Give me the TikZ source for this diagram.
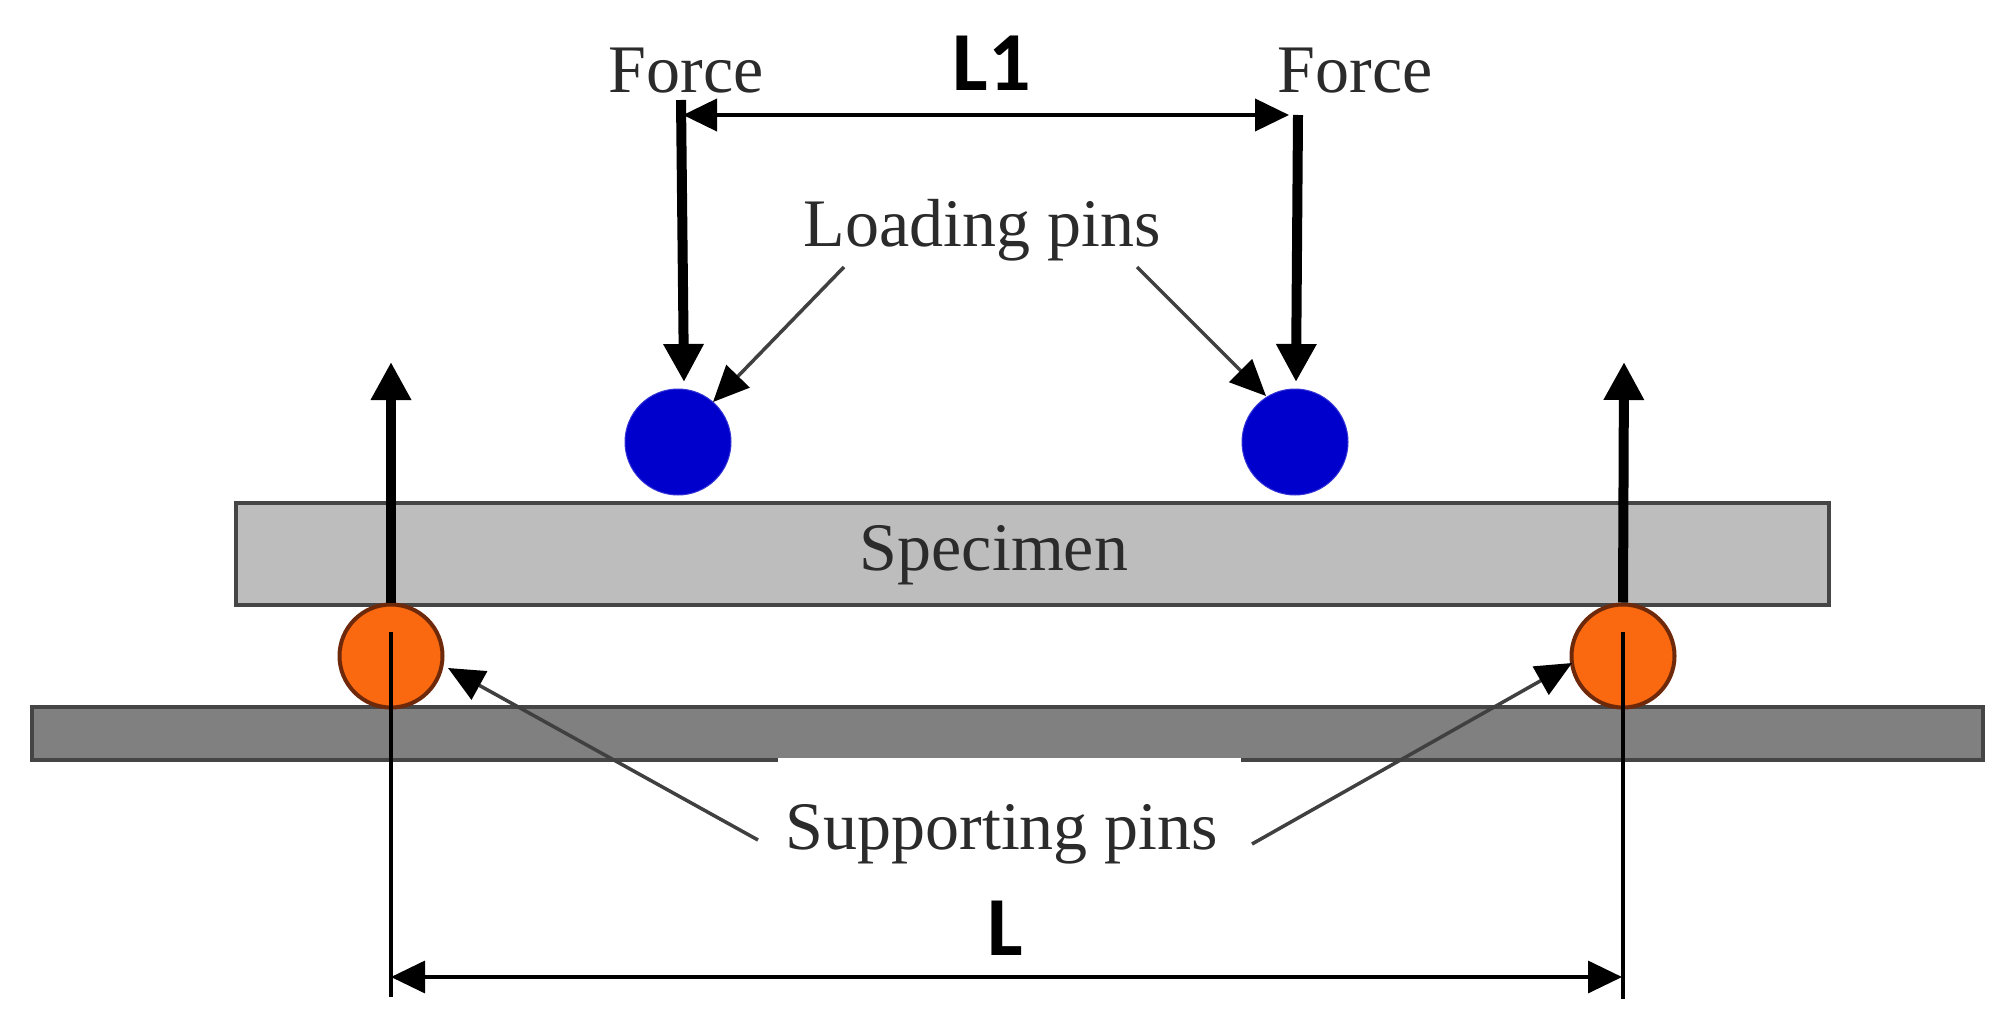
\documentclass[tikz,border=0pt]{standalone}
\usepackage{fontspec}
\setmainfont{Liberation Serif}
\newfontfamily\lblfont{Carlito}[BoldFont={Carlito Bold}]
\usetikzlibrary{arrows.meta}
\definecolor{edgegray}{gray}{0.27}
\definecolor{specgray}{gray}{0.74}
\definecolor{basegray}{gray}{0.5}
\definecolor{pinblue}{RGB}{0,0,205}
\definecolor{pinorange}{RGB}{250,105,15}
\definecolor{pinedge}{RGB}{110,40,10}
\definecolor{textgray}{gray}{0.17}
\tikzset{
  plate/.style={draw=edgegray,line width=4.5pt,rectangle,inner sep=0pt,minimum width=#1},
  loadpin/.style={circle,fill=pinblue,draw=pinblue!80!white,line width=1pt,inner sep=0pt,minimum size=106pt},
  supportpin/.style={circle,fill=pinorange,draw=pinedge,line width=4pt,inner sep=0pt,minimum size=103pt},
  forcearrow/.style={line width=10pt,-{Triangle[length=38pt,width=38pt]}},
  dimarrow/.style={line width=#1,{Triangle[length=34pt,width=32pt]}-{Triangle[length=34pt,width=32pt]}},
  leader/.style={line width=3.5pt,draw=black!75,-{Triangle[length=36pt,width=32pt,color=black]}},
  thinline/.style={line width=3.2pt},
  lbl/.style={font=\fontsize{68}{70}\selectfont,text=textgray,anchor=base,inner sep=0pt},
  dimlbl/.style={font=\lblfont\bfseries\fontsize{84}{88}\selectfont,text=black,anchor=base,inner sep=0pt}
}
\begin{document}
\begin{tikzpicture}[x=1pt,y=-1pt]
\useasboundingbox (0,0) rectangle (2015,1030);
\fill[white] (0,0) rectangle (2015,1030);
% plates
\node[plate=1593pt,minimum height=102pt,fill=specgray] (spec) at (1032.5,554) {};
\node[plate=1951pt,minimum height=53pt,fill=basegray] (base) at (1007.5,733.5) {};
\fill[white] (778,758) rectangle (1241,763);
% pins
\node[loadpin] (lp1) at (678,442) {};
\node[loadpin] (lp2) at (1295,442) {};
\node[supportpin] (sp1) at (391,656) {};
\node[supportpin] (sp2) at (1623,656) {};
% labels
\node[lbl] (f1) at (686,93) {Force};
\node[lbl] (f2) at (1355,93) {Force};
\node[lbl] (lpl) at (982,246) {Loading pins};
\node[lbl] (spc) at (994,570) {Specimen};
\node[lbl] (spl) at (1002,849) {Supporting pins};
\node[dimlbl] (l1) at (992,91) {L1};
\node[dimlbl] (l) at (1005,955) {L};
% free ends
\coordinate (fa1) at (681,100);
\coordinate (fa1t) at (684,382);
\coordinate (fa2) at (1298,115);
\coordinate (fa2t) at (1296,382);
\coordinate (d1a) at (683,115);
\coordinate (d1b) at (1289,115);
\coordinate (u1t) at (391,362);
\coordinate (u2t) at (1624,362);
\coordinate (ll1s) at (844,267);
\coordinate (ll1t) at (713,402);
\coordinate (ll2s) at (1137,267);
\coordinate (ll2t) at (1266,396);
\coordinate (sl1s) at (758,840);
\coordinate (sl1t) at (448,668);
\coordinate (sl2s) at (1252,844);
\coordinate (sl2t) at (1572,663);
\coordinate (v1a) at (391,632);
\coordinate (v1b) at (391,997);
\coordinate (v2a) at (1623,632);
\coordinate (v2b) at (1623,999);
\coordinate (d2a) at (391,977);
\coordinate (d2b) at (1622,977);
% force arrows
\draw[forcearrow] (fa1) -- (fa1t);
\draw[forcearrow] (fa2) -- (fa2t);
\draw[forcearrow] (sp1.north) -- (u1t);
\draw[forcearrow] (sp2.north) -- (u2t);
% dimensions
\draw[dimarrow=4pt] (d1a) -- (d1b);
\draw[dimarrow=3.5pt] (d2a) -- (d2b);
\draw[thinline] (v1a) -- (v1b);
\draw[thinline] (v2a) -- (v2b);
% leaders
\draw[leader] (ll1s) -- (ll1t);
\draw[leader] (ll2s) -- (ll2t);
\draw[leader] (sl1s) -- (sl1t);
\draw[leader] (sl2s) -- (sl2t);
\end{tikzpicture}
\end{document}
